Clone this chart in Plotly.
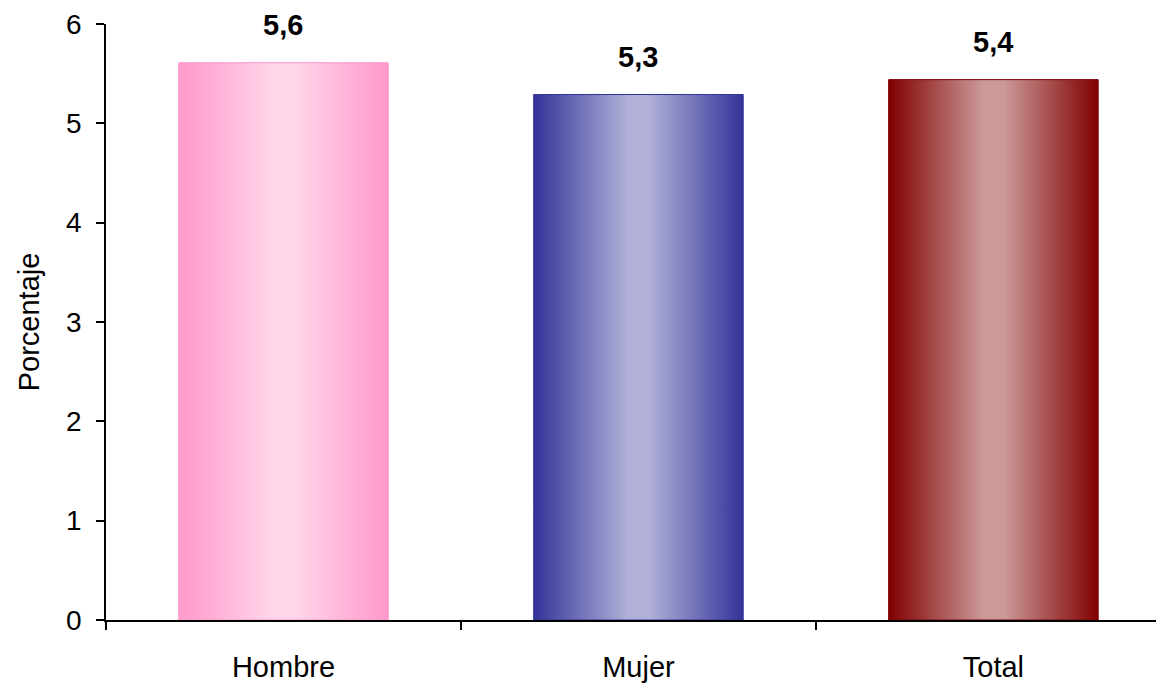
import plotly.graph_objects as go

categories = ["Hombre", "Mujer", "Total"]
values = [5.61, 5.29, 5.44]
edge_colors = ["#FF99CC", "#333399", "#800000"]
center_colors = ["#FFD6E9", "#B0B0D8", "#CC9999"]
y_ticks = [0, 1, 2, 3, 4, 5, 6]

FONT = "Arial, Liberation Sans, sans-serif"
FS = 29
bar_width = 0.59
xs = list(range(len(categories)))

fig = go.Figure()

# real bars (solid base)
fig.add_trace(go.Bar(
    x=xs, y=values, width=bar_width,
    marker=dict(color=edge_colors, line=dict(width=0)),
    hoverinfo="skip", showlegend=False,
))

# gradient overlays derived from the same values
for i, v in enumerate(values):
    x0, x1 = i - bar_width / 2, i + bar_width / 2
    fig.add_trace(go.Scatter(
        x=[x0, x1, x1, x0, x0], y=[0, 0, v, v, 0],
        mode="lines", line=dict(color=edge_colors[i], width=1),
        fill="toself",
        fillgradient=dict(
            type="horizontal",
            colorscale=[[0, edge_colors[i]], [0.45, center_colors[i]],
                        [0.55, center_colors[i]], [1, edge_colors[i]]],
        ),
        hoverinfo="skip", showlegend=False,
    ))

for i, v in enumerate(values):
    fig.add_annotation(
        x=i, y=v, text=f"<b>{v:.1f}</b>".replace(".", ","),
        showarrow=False, yanchor="bottom", yshift=20,
        font=dict(family=FONT, size=FS, color="black"),
    )

fig.update_layout(
    width=1156, height=683,
    margin=dict(l=106, r=0, t=24, b=61),
    paper_bgcolor="white", plot_bgcolor="white",
    font=dict(family=FONT, size=FS, color="black"),
    xaxis=dict(
        range=[-0.5, 2.458], tickvals=xs, ticktext=categories,
        ticks="", showgrid=False, zeroline=False,
        showline=True, linecolor="black", linewidth=1.5,
        ticklabelstandoff=20,
        tickfont=dict(family=FONT, size=FS, color="black"),
        minor=dict(tickvals=[-0.5, 0.5, 1.5], ticks="outside", ticklen=8,
                   tickcolor="black", tickwidth=1.5, showgrid=False),
    ),
    yaxis=dict(
        range=[0, 6], tickvals=y_ticks, ticks="outside", ticklen=8,
        tickcolor="black", tickwidth=1.5,
        showgrid=False, zeroline=False,
        showline=True, linecolor="black", linewidth=1.5,
        ticklabelstandoff=9,
        tickfont=dict(family=FONT, size=FS - 1, color="black"),
        title=dict(text="Porcentaje", font=dict(family=FONT, size=FS, color="black"), standoff=18),
    ),
)

fig.write_html(
    "out.html",
    config={"displayModeBar": False},
    post_script="document.body.style.margin='0';document.body.style.overflow='hidden';",
)
